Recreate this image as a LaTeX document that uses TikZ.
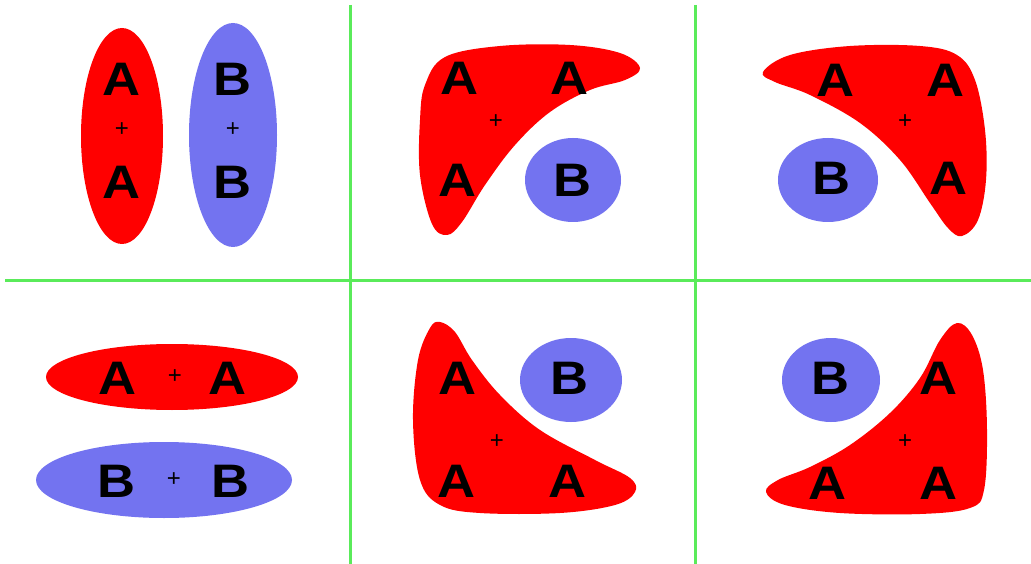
\documentclass[tikz,border=0pt]{standalone}
\usepackage{fontspec}
\setmainfont{Liberation Sans}
\definecolor{gridgreen}{RGB}{90,235,90}
\definecolor{blobred}{RGB}{255,0,0}
\definecolor{blobblue}{RGB}{115,115,240}
\begin{document}
\begin{tikzpicture}[x=1pt,y=-1pt,
  letter/.style={font=\fontsize{47}{47}\selectfont\bfseries, xscale=1.12, inner sep=0pt, text=black},
  plus/.style={font=\fontsize{24}{24}\selectfont, inner sep=0pt, text=black},
  redfill/.style={fill=blobred, draw=none},
  bluefill/.style={fill=blobblue, draw=none},
  gridline/.style={draw=gridgreen, line width=3pt}]
\useasboundingbox[fill=white] (0,0) rectangle (1031,564);
% grid
\coordinate (v1t) at (350,5); \coordinate (v1b) at (350,564);
\coordinate (v2t) at (695,5); \coordinate (v2b) at (695,564);
\coordinate (hl) at (5,280); \coordinate (hr) at (1031,280);
\draw[gridline] (v1t) -- (v1b);
\draw[gridline] (v2t) -- (v2b);
\draw[gridline] (hl) -- (hr);
% panel 1: top-left
\fill[redfill] (122,136) ellipse [x radius=41, y radius=108];
\fill[bluefill] (233,135) ellipse [x radius=44, y radius=112];
\node[letter] (a11) at (122,79) {A};
\node[letter] (a12) at (122,182) {A};
\node[plus] (p11) at (122,130) {+};
\node[letter] (b11) at (233,79) {B};
\node[letter] (b12) at (233,182) {B};
\node[plus] (p12) at (233,130) {+};
% panel 2: top-middle
\fill[redfill] plot[smooth cycle, tension=0.6] coordinates {(425,85) (445,57) (500,46) (570,45) (620,53) (640,68) (625,80) (590,90) (550,112) (515,145) (485,185) (462,222) (447,235) (432,224) (420,175) (420,120)};
\fill[bluefill] (573,180) ellipse [x radius=48, y radius=42];
\node[letter] (a21) at (460,78) {A};
\node[letter] (a22) at (570,78) {A};
\node[letter] (a23) at (458,180) {A};
\node[letter] (b21) at (573,180) {B};
\node[plus] (p21) at (496,122) {+};
% panel 3: top-right
\fill[redfill] plot[smooth cycle, tension=0.6] coordinates {(763,72) (790,55) (850,46) (920,46) (957,55) (975,80) (985,130) (986,180) (978,220) (962,236) (948,228) (930,203) (900,160) (860,123) (810,95) (775,82)};
\fill[bluefill] (828,180) ellipse [x radius=50, y radius=42];
\node[letter] (a31) at (835,80) {A};
\node[letter] (a32) at (945,80) {A};
\node[letter] (a33) at (948,178) {A};
\node[letter] (b31) at (831,178) {B};
\node[plus] (p31) at (905,122) {+};
% panel 4: bottom-left
\fill[redfill] (172,377) ellipse [x radius=126, y radius=33];
\fill[bluefill] (164,480) ellipse [x radius=128, y radius=38];
\node[letter] (a41) at (118,378) {A};
\node[letter] (a42) at (228,378) {A};
\node[plus] (p41) at (175,377) {+};
\node[letter] (b41) at (117,481) {B};
\node[letter] (b42) at (231,481) {B};
\node[plus] (p42) at (174,480) {+};
% panel 5: bottom-middle
\fill[redfill] plot[smooth cycle, tension=0.6] coordinates {(440,322) (455,332) (472,360) (500,395) (540,430) (595,460) (630,478) (635,492) (615,505) (560,513) (480,513) (440,505) (420,480) (413,420) (418,360) (430,328)};
\fill[bluefill] (571,380) ellipse [x radius=51, y radius=42];
\node[letter] (a51) at (458,378) {A};
\node[letter] (b51) at (570,378) {B};
\node[letter] (a52) at (457,481) {A};
\node[letter] (a53) at (568,481) {A};
\node[plus] (p51) at (497,442) {+};
% panel 6: bottom-right
\fill[redfill] plot[smooth cycle, tension=0.6] coordinates {(957,323) (972,335) (983,370) (987,430) (984,490) (970,508) (920,514) (840,513) (785,505) (766,492) (778,480) (810,467) (850,445) (890,413) (920,378) (940,340)};
\fill[bluefill] (831,380) ellipse [x radius=49, y radius=42];
\node[letter] (b61) at (830,378) {B};
\node[letter] (a61) at (938,378) {A};
\node[letter] (a62) at (827,483) {A};
\node[letter] (a63) at (938,483) {A};
\node[plus] (p61) at (905,442) {+};
\end{tikzpicture}
\end{document}
